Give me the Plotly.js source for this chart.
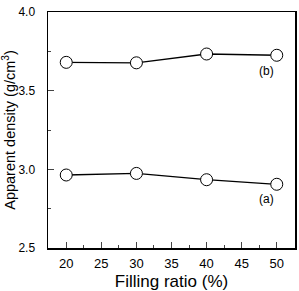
<!DOCTYPE html>
<html><head><meta charset="utf-8">
<script src="https://cdn.plot.ly/plotly-3.0.1.min.js"></script>
<style>html,body{margin:0;padding:0;background:#fff}#c{width:299px;height:291px}</style>
</head><body><div id="c"></div>
<script>
const fillingRatio = [20, 30, 40, 50];
const densityA = [2.964, 2.974, 2.934, 2.905];
const densityB = [3.68, 3.677, 3.733, 3.725];
const seriesLabels = ['(a)', '(b)'];
const labelPos = [{x: 48.6, y: 2.81}, {x: 48.5, y: 3.625}];

const marker = {symbol: 'circle', size: 12, color: '#fff', line: {color: '#000', width: 1}};
const traces = [densityA, densityB].map(v => ({
  x: fillingRatio, y: v, type: 'scatter', mode: 'lines+markers',
  line: {color: '#000', width: 1.3}, marker: marker, showlegend: false, cliponaxis: false
}));
const font = {family: 'Liberation Sans, Arial, sans-serif', color: '#000'};
const layout = {
  width: 299, height: 291,
  margin: {l: 48, r: 4, t: 12, b: 43},
  paper_bgcolor: '#fff', plot_bgcolor: '#fff',
  font: font,
  xaxis: {range: [17.4, 52.6], tickvals: [20,25,30,35,40,45,50], ticks: 'inside', ticklen: 6,
    tickwidth: 1.2, minor: {dtick: 2.5, tick0: 20, ticks: 'inside', ticklen: 3, tickwidth: 1},
    showline: true, linewidth: 1.5, linecolor: '#000', mirror: true, showgrid: false, zeroline: false,
    tickfont: {size: 13, family: font.family}, ticklabelstandoff: 3,
    title: {text: 'Filling ratio (%)', font: {size: 17, family: font.family}, standoff: 6}},
  yaxis: {range: [2.5, 4.0], tickvals: [2.5, 3.0, 3.5, 4.0], ticktext: ['2.5','3.0','3.5','4.0'],
    ticks: 'inside', ticklen: 6, tickwidth: 1.2,
    minor: {dtick: 0.25, tick0: 2.5, ticks: 'inside', ticklen: 3, tickwidth: 1},
    showline: true, linewidth: 1.5, linecolor: '#000', mirror: true, showgrid: false, zeroline: false,
    tickfont: {size: 12, family: font.family}, ticklabelstandoff: 9,
    title: {text: 'Apparent density (g/cm<sup>3</sup>)', font: {size: 14.5, family: font.family}, standoff: 2}},
  annotations: seriesLabels.map((t, i) => ({x: labelPos[i].x, y: labelPos[i].y, text: t, showarrow: false,
    font: {size: 12, family: font.family}}))
};
Plotly.newPlot('c', traces, layout, {displayModeBar: false, staticPlot: true});
</script></body></html>
